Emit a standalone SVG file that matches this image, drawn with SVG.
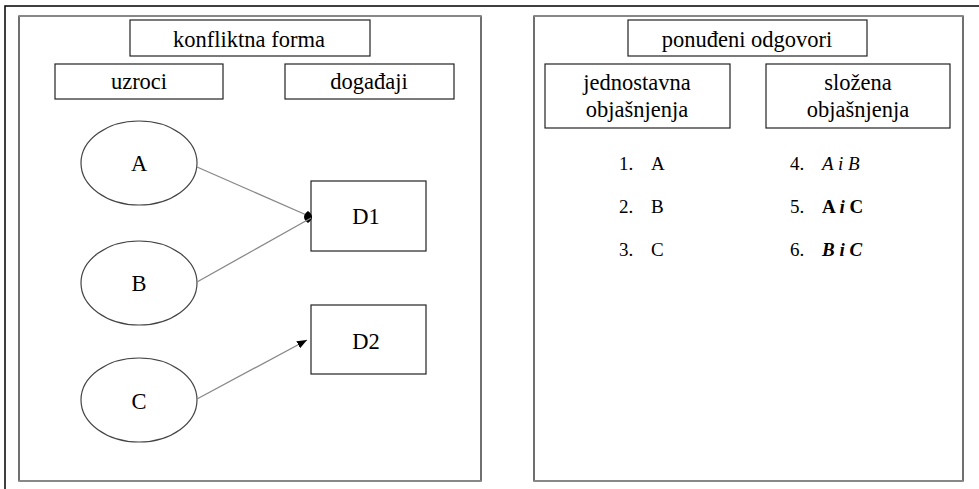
<svg xmlns="http://www.w3.org/2000/svg" width="979" height="489" viewBox="0 0 979 489">
<defs>
<style>
text{font-family:"Liberation Serif","Times New Roman",serif;font-size:22.5px;fill:#000}
.box{fill:#fff;stroke:#222;stroke-width:1.2}
.ell{fill:#fff;stroke:#444;stroke-width:1.2}
.panel{fill:#fff;stroke:#111;stroke-width:1.2}
.edge{stroke:#888;stroke-width:2}
.con{stroke:#888;stroke-width:1.3;fill:none}
.mid{text-anchor:middle}
.li{font-size:19px}
</style>
<marker id="dia" viewBox="0 0 8 12" refX="7" refY="6" markerWidth="8" markerHeight="12" orient="0" markerUnits="userSpaceOnUse">
<path d="M4,0 Q8,3 8,6 Q8,9 4,12 Q0,9 0,6 Q0,3 4,0 Z" fill="#000"/>
</marker>
<marker id="tri" viewBox="0 0 10 8" refX="10" refY="4" markerWidth="10" markerHeight="8" orient="auto" markerUnits="userSpaceOnUse">
<path d="M0,0 L10,4 L0,8 Z" fill="#000"/>
</marker>
</defs>
<rect width="979" height="489" fill="#fff"/>
<g id="frame">
<path d="M5,489 V6 H979" fill="none" stroke="#000" stroke-width="1.5"/>
</g>
<g id="left-panel">
<rect class="panel" x="19" y="16" width="462" height="465"/>
<line class="edge" x1="19" y1="16" x2="481" y2="16"/>
<line class="edge" x1="19" y1="481" x2="481" y2="481"/>
</g>
<g id="right-panel">
<rect class="panel" x="534" y="16" width="429" height="465"/>
<line class="edge" x1="534" y1="16" x2="963" y2="16"/>
<line class="edge" x1="534" y1="481" x2="963" y2="481"/>
</g>
<g id="konfliktna-forma"><rect class="box" x="130" y="20" width="240" height="36"/><text class="mid" x="249" y="47">konfliktna forma</text></g>
<g id="uzroci"><rect class="box" x="55" y="64" width="168" height="35"/><text class="mid" x="139" y="89">uzroci</text></g>
<g id="dogadjaji"><rect class="box" x="285" y="64" width="169" height="35"/><text class="mid" x="369" y="89">događaji</text></g>
<g id="A"><ellipse class="ell" cx="139" cy="163" rx="58" ry="42"/><text class="mid" x="139" y="171">A</text></g>
<g id="B"><ellipse class="ell" cx="139" cy="283" rx="58" ry="42"/><text class="mid" x="139" y="291">B</text></g>
<g id="C"><ellipse class="ell" cx="139" cy="400" rx="58" ry="42"/><text class="mid" x="139" y="409">C</text></g>
<g id="D1"><rect class="box" x="311" y="181" width="115" height="70"/><text class="mid" x="366" y="224">D1</text></g>
<g id="D2"><rect class="box" x="311" y="305" width="115" height="69"/><text class="mid" x="366" y="349">D2</text></g>
<g id="connectors">
<line class="con" x1="197" y1="167" x2="311" y2="217" marker-end="url(#dia)"/>
<line class="con" x1="197" y1="282" x2="311" y2="218"/>
<line class="con" x1="197" y1="399" x2="307" y2="340" marker-end="url(#tri)"/>
</g>
<g id="ponudjeni-odgovori"><rect class="box" x="628" y="20" width="239" height="36"/><text class="mid" x="747" y="47">ponuđeni odgovori</text></g>
<g id="jednostavna"><rect class="box" x="545" y="64" width="185" height="64"/><text class="mid" x="637" y="90">jednostavna</text><text class="mid" x="637" y="117">objašnjenja</text></g>
<g id="slozena"><rect class="box" x="766" y="64" width="184" height="64"/><text class="mid" x="858" y="90">složena</text><text class="mid" x="858" y="117">objašnjenja</text></g>
<g id="list-left">
<text class="li" x="619" y="170">1.</text><text class="li" x="651" y="170">A</text>
<text class="li" x="619" y="213">2.</text><text class="li" x="651" y="213">B</text>
<text class="li" x="619" y="256">3.</text><text class="li" x="651" y="256">C</text>
</g>
<g id="list-right">
<text class="li" x="790" y="170">4.</text><text class="li" x="822" y="170" font-style="italic">A i B</text>
<text class="li" x="790" y="213">5.</text><text class="li" x="822" y="213" font-weight="bold">A <tspan font-style="italic">i</tspan> C</text>
<text class="li" x="790" y="256">6.</text><text class="li" x="822" y="256" font-weight="bold" font-style="italic">B i C</text>
</g>
</svg>
